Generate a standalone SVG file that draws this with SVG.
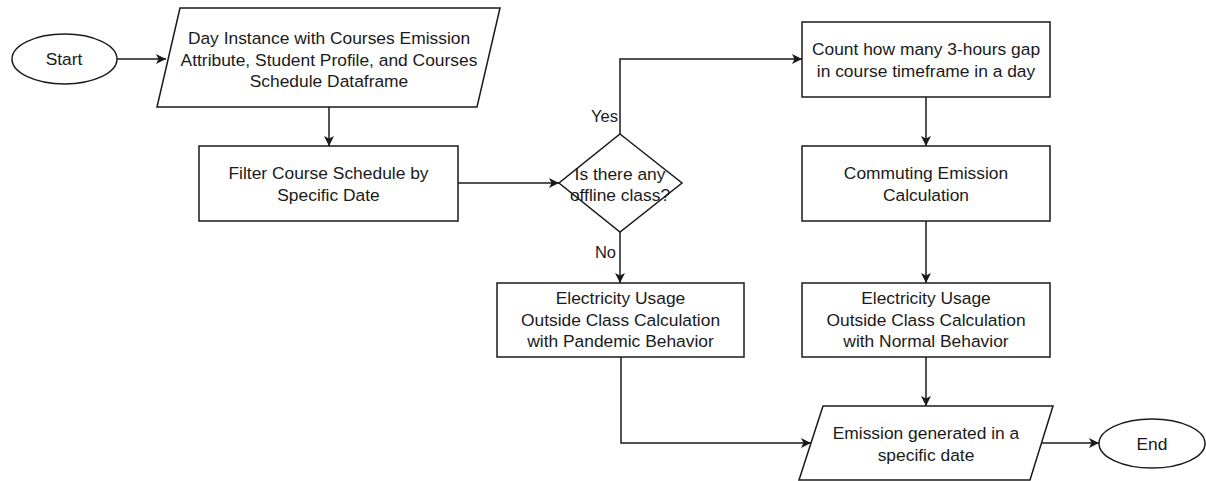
<svg xmlns="http://www.w3.org/2000/svg" width="1206" height="481" viewBox="0 0 1206 481">
  <defs>
    <marker id="arrow" viewBox="0 0 10 10" refX="10" refY="5" markerWidth="12" markerHeight="10" markerUnits="userSpaceOnUse" orient="auto">
      <path d="M0,0 L10,5 L0,10 L2.5,5 z" fill="#1a1a1a"/>
    </marker>
    <style>
      .shape { fill: #ffffff; stroke: #1a1a1a; stroke-width: 1.5; }
      .edge { fill: none; stroke: #1a1a1a; stroke-width: 1.5; marker-end: url(#arrow); }
      text { font-family: "Liberation Sans", Arial, sans-serif; font-size: 17.4px; fill: #1a1a1a; text-anchor: middle; }
      .lbl { font-size: 16.5px; text-anchor: end; }
    </style>
  </defs>
  <rect width="1206" height="481" fill="#ffffff"/>

  <g id="connectors">
    <path class="edge" d="M117,59 L166,59"/>
    <path class="edge" d="M329,107 L329,146"/>
    <path class="edge" d="M458,183 L559,183"/>
    <path class="edge" d="M620,134 L620,59 L802,59"/>
    <path class="edge" d="M620,232 L620,283"/>
    <path class="edge" d="M926,97 L926,146"/>
    <path class="edge" d="M926,221 L926,283"/>
    <path class="edge" d="M926,357 L926,406"/>
    <path class="edge" d="M621,357 L621,443 L811,443"/>
    <path class="edge" d="M1041,443 L1099,443"/>
    <text class="lbl" x="618" y="122">Yes</text>
    <text class="lbl" x="616" y="258">No</text>
  </g>

  <g id="start">
    <ellipse class="shape" cx="64.5" cy="59" rx="52.5" ry="25"/>
    <text x="64" y="65">Start</text>
  </g>

  <g id="input">
    <polygon class="shape" points="180,8 500,8 477,107 157,107"/>
    <text x="329" y="44">Day Instance with Courses Emission</text>
    <text x="329" y="65.5">Attribute, Student Profile, and Courses</text>
    <text x="329" y="87">Schedule Dataframe</text>
  </g>

  <g id="filter">
    <rect class="shape" x="199" y="146" width="259" height="75"/>
    <text x="328.5" y="179">Filter Course Schedule by</text>
    <text x="328.5" y="200.5">Specific Date</text>
  </g>

  <g id="decision">
    <polygon class="shape" points="620,134 682,183 620,232 559,183"/>
    <text x="620" y="180">Is there any</text>
    <text x="620" y="201">offline class?</text>
  </g>

  <g id="count-gap">
    <rect class="shape" x="802" y="22" width="248" height="75"/>
    <text x="926" y="55">Count how many 3-hours gap</text>
    <text x="926" y="77">in course timeframe in a day</text>
  </g>

  <g id="commuting">
    <rect class="shape" x="802" y="146" width="248" height="75"/>
    <text x="926" y="179">Commuting Emission</text>
    <text x="926" y="200.5">Calculation</text>
  </g>

  <g id="electricity-pandemic">
    <rect class="shape" x="497" y="283" width="247" height="74"/>
    <text x="620.5" y="304">Electricity Usage</text>
    <text x="620.5" y="325.5">Outside Class Calculation</text>
    <text x="620.5" y="347">with Pandemic Behavior</text>
  </g>

  <g id="electricity-normal">
    <rect class="shape" x="802" y="283" width="248" height="74"/>
    <text x="926" y="304">Electricity Usage</text>
    <text x="926" y="325.5">Outside Class Calculation</text>
    <text x="926" y="347">with Normal Behavior</text>
  </g>

  <g id="output">
    <polygon class="shape" points="823,406 1053,406 1030,480 799,480"/>
    <text x="926" y="439">Emission generated in a</text>
    <text x="926" y="460.5">specific date</text>
  </g>

  <g id="end">
    <ellipse class="shape" cx="1152" cy="443.5" rx="53" ry="24.5"/>
    <text x="1152" y="449.5">End</text>
  </g>
</svg>
